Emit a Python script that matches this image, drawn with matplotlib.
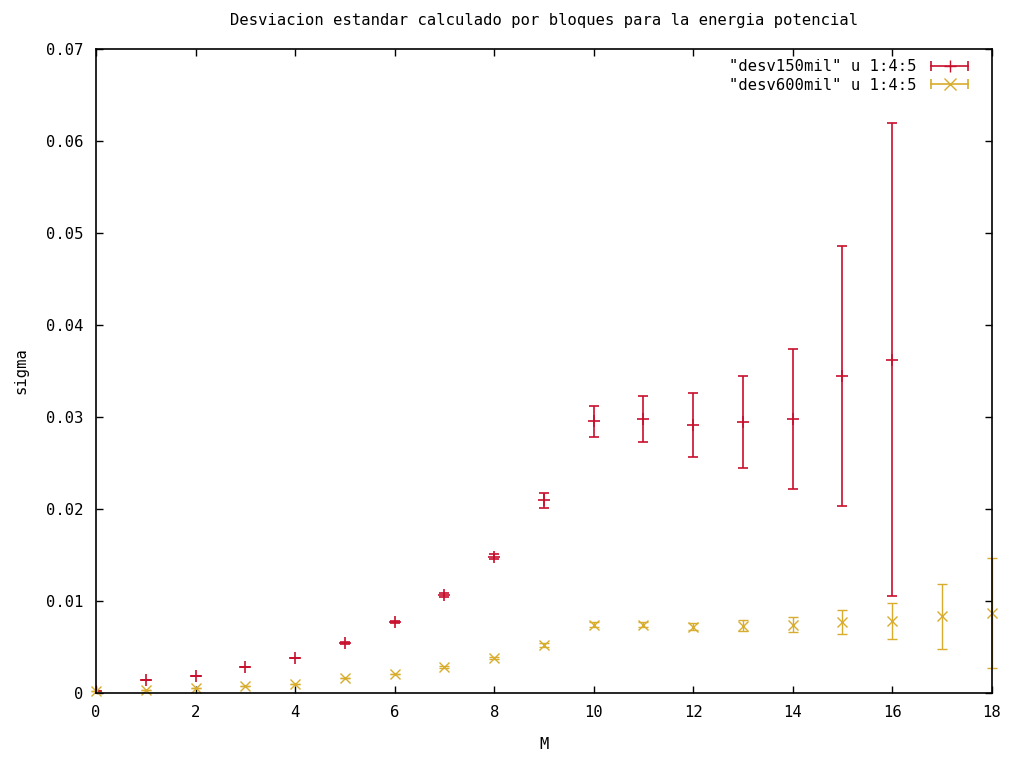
import matplotlib
matplotlib.use("Agg")
import matplotlib.pyplot as plt
from matplotlib.lines import Line2D
from matplotlib.legend_handler import HandlerLine2D, HandlerTuple

# ── data ────────────────────────────────────────────────────────────────────
m_150 = list(range(17))
sigma_150 = [0.0002, 0.0014, 0.0018, 0.0028, 0.0038, 0.0054, 0.0077, 0.0106,
             0.0148, 0.0209, 0.0295, 0.0298, 0.0291, 0.0294, 0.0297, 0.0344,
             0.0362]
err_150 = [0.0000, 0.0000, 0.0000, 0.0000, 0.0000, 0.0001, 0.0001, 0.0002,
           0.0003, 0.0008, 0.0017, 0.0025, 0.0035, 0.0050, 0.0076, 0.0141,
           0.0257]

m_600 = list(range(19))
sigma_600 = [0.0002, 0.0003, 0.0005, 0.0007, 0.0010, 0.0016, 0.0020, 0.0028,
             0.0038, 0.0052, 0.0074, 0.0074, 0.0072, 0.0073, 0.0074, 0.0077,
             0.0078, 0.0083, 0.0087]
err_600 = [0.0000, 0.0000, 0.0000, 0.0000, 0.0000, 0.0000, 0.0000, 0.0001,
           0.0001, 0.0002, 0.0003, 0.0003, 0.0004, 0.0006, 0.0008, 0.0013,
           0.0020, 0.0035, 0.0060]

labels = ['"desv150mil" u 1:4:5', '"desv600mil" u 1:4:5']
y_ticks = [0, 0.01, 0.02, 0.03, 0.04, 0.05, 0.06, 0.07]
y_labels = ["0", "0.01", "0.02", "0.03", "0.04", "0.05", "0.06", "0.07"]
x_ticks = list(range(0, 19, 2))

RED = "#c8102e"
GOLD = "#d8ac2c"

plt.rcParams["font.family"] = ["DejaVu Sans Mono"]
plt.rcParams["font.size"] = 11.2
plt.rcParams["axes.titlesize"] = "medium"

fig = plt.figure(figsize=(10.12, 7.58), dpi=100)
ax = fig.add_axes([0.095, 0.086, 0.885, 0.850])

ax.errorbar(m_150, sigma_150, yerr=err_150, fmt="+", color=RED, ms=8,
            mew=1.2, elinewidth=1.2, capsize=3.5, capthick=1.2)
ax.errorbar(m_600, sigma_600, yerr=err_600, fmt="x", color=GOLD, ms=7,
            mew=1.0, elinewidth=1.0, capsize=3.5, capthick=1.0,
            clip_on=False)

ax.set_xlim(0, 18)
ax.set_ylim(0, 0.07)
ax.set_xticks(x_ticks)
ax.set_yticks(y_ticks)
ax.set_yticklabels(y_labels)
ax.tick_params(direction="in", top=True, right=True, length=5, width=1,
               pad=9)
for s in ax.spines.values():
    s.set_linewidth(1.2)

ax.set_xlabel("M", labelpad=12)
ax.set_ylabel("sigma", labelpad=13)
ax.set_title("Desviacion estandar calculado por bloques para la energia potencial",
             pad=17)

# gnuplot-like legend keys: line with end caps and the point marker centred
handles = []
handler_map = {}
for color, mk in [(RED, "+"), (GOLD, "x")]:
    caps = Line2D([], [], color=color, lw=1.2, marker="|", ms=7, mew=1.2)
    pt = Line2D([], [], color=color, ls="none", marker=mk, ms=8, mew=1.0)
    handler_map[caps] = HandlerLine2D(numpoints=2)
    handler_map[pt] = HandlerLine2D(numpoints=1)
    handles.append((caps, pt))
handler_map[tuple] = HandlerTuple(ndivide=1, pad=0)

ax.legend(handles, labels, handler_map=handler_map, loc="upper right",
          bbox_to_anchor=(0.979, 0.983), borderaxespad=0, borderpad=0,
          frameon=False, markerfirst=False, handlelength=3.0,
          labelspacing=0.22, handletextpad=0.65)

fig.savefig("out.png", dpi=100)
